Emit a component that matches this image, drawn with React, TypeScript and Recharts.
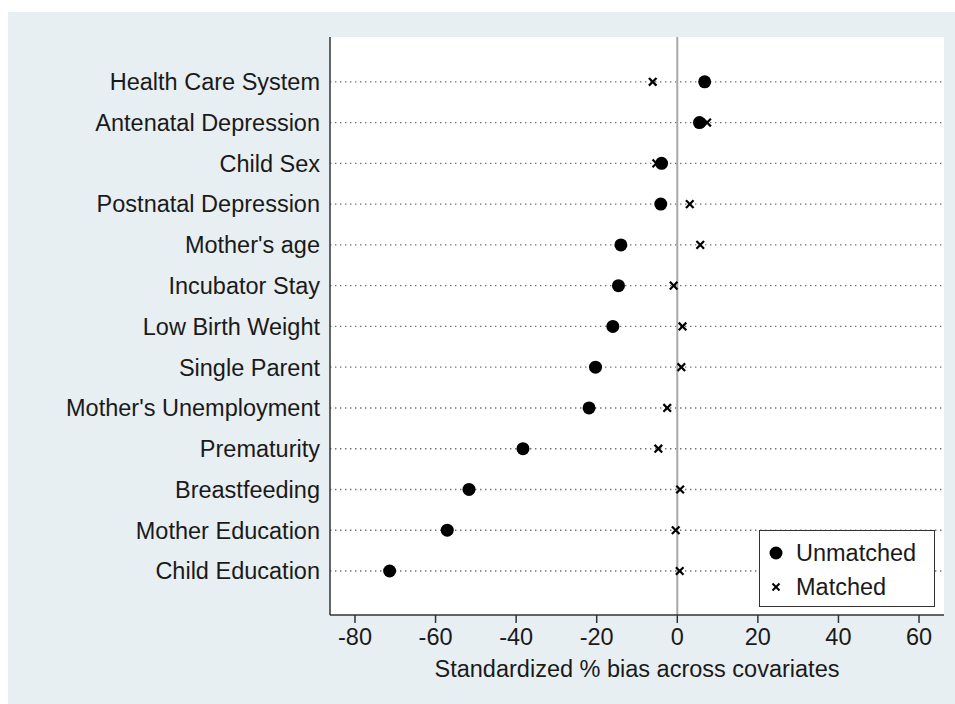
import { CartesianGrid, ReferenceLine, Scatter, ScatterChart, XAxis, YAxis } from "recharts";

const covariates = [
  "Health Care System",
  "Antenatal Depression",
  "Child Sex",
  "Postnatal Depression",
  "Mother's age",
  "Incubator Stay",
  "Low Birth Weight",
  "Single Parent",
  "Mother's Unemployment",
  "Prematurity",
  "Breastfeeding",
  "Mother Education",
  "Child Education",
];

const unmatched = [6.8, 5.5, -3.9, -4.1, -14.0, -14.6, -16.0, -20.3, -21.9, -38.3, -51.7, -57.1, -71.4];
const matched = [-6.1, 7.4, -5.2, 3.1, 5.7, -0.9, 1.3, 1.0, -2.5, -4.7, 0.7, -0.4, 0.6];

const xTicks = [-80, -60, -40, -20, 0, 20, 40, 60];
const rowTicks = covariates.map((_, i) => covariates.length - i);

const unmatchedData = covariates.map((name, i) => ({ name, x: unmatched[i], y: covariates.length - i }));
const matchedData = covariates.map((name, i) => ({ name, x: matched[i], y: covariates.length - i }));

const FONT = "'Liberation Sans', Arial, Helvetica, sans-serif";
const INK = "#1a1a1a";
const FS = 23.5;

function Dot(props: any) {
  const { cx, cy } = props;
  return <circle cx={cx} cy={cy} r={6.5} fill="#000" />;
}

function Cross(props: any) {
  const { cx, cy } = props;
  const s = 3.8;
  return (
    <g stroke="#000" strokeWidth={2.2}>
      <line x1={cx - s} y1={cy - s} x2={cx + s} y2={cy + s} />
      <line x1={cx - s} y1={cy + s} x2={cx + s} y2={cy - s} />
    </g>
  );
}

function LegendBox() {
  return (
    <div
      style={{
        position: "absolute",
        left: 751,
        top: 518,
        width: 174,
        height: 75,
        background: "#fff",
        border: "1px solid #333",
        fontFamily: FONT,
        fontSize: FS,
        color: INK,
      }}
    >
      <div style={{ display: "flex", alignItems: "center", height: 34, marginTop: 5 }}>
        <svg width={36} height={20}>
          <circle cx={16} cy={10} r={6.5} fill="#000" />
        </svg>
        <span>Unmatched</span>
      </div>
      <div style={{ display: "flex", alignItems: "center", height: 34 }}>
        <svg width={36} height={20}>
          <g stroke="#000" strokeWidth={2}>
            <line x1={12.5} y1={6.5} x2={19.5} y2={13.5} />
            <line x1={12.5} y1={13.5} x2={19.5} y2={6.5} />
          </g>
        </svg>
        <span>Matched</span>
      </div>
    </div>
  );
}

export default function App() {
  return (
    <div style={{ paddingTop: 12, paddingLeft: 8 }}>
      <style>{"body{margin:0;overflow:hidden}"}</style>
      <div style={{ position: "relative", width: 947, height: 692, background: "#e8eff2" }}>
        <ScatterChart width={947} height={692} margin={{ top: 25, right: 11, left: 0, bottom: 19 }}>
          <CartesianGrid horizontal={false} vertical={false} fill="#ffffff" fillOpacity={1} />
          <XAxis
            type="number"
            dataKey="x"
            domain={[-86.2, 66.2]}
            ticks={xTicks}
            allowDataOverflow
            height={70}
            tickSize={8}
            tickMargin={5}
            axisLine={{ stroke: "#333", strokeWidth: 1.5 }}
            tickLine={{ stroke: "#333", strokeWidth: 1.5 }}
            tick={{ fontSize: FS, fill: INK, fontFamily: FONT }}
            label={{
              value: "Standardized % bias across covariates",
              position: "insideBottom",
              offset: 8,
              style: { fontSize: FS, fill: INK, fontFamily: FONT },
            }}
          />
          <YAxis
            type="number"
            dataKey="y"
            domain={[-0.08, 14.1]}
            ticks={rowTicks}
            interval={0}
            width={322}
            tickLine={false}
            tickSize={4}
            tickMargin={6}
            axisLine={{ stroke: "#333", strokeWidth: 1.5 }}
            tick={{ fontSize: FS, fill: INK, fontFamily: FONT }}
            tickFormatter={(v: number) => covariates[covariates.length - v] ?? ""}
          />
          {rowTicks.map((t) => (
            <ReferenceLine
              key={t}
              y={t}
              stroke="#6f6f6f"
              strokeWidth={1.4}
              strokeDasharray="1.4 3.6"
            />
          ))}
          <ReferenceLine x={0} stroke="#a8a8a8" strokeWidth={2} />
          <Scatter name="Unmatched" data={unmatchedData} shape={Dot} isAnimationActive={false} />
          <Scatter name="Matched" data={matchedData} shape={Cross} isAnimationActive={false} />
        </ScatterChart>
        <LegendBox />
      </div>
    </div>
  );
}
